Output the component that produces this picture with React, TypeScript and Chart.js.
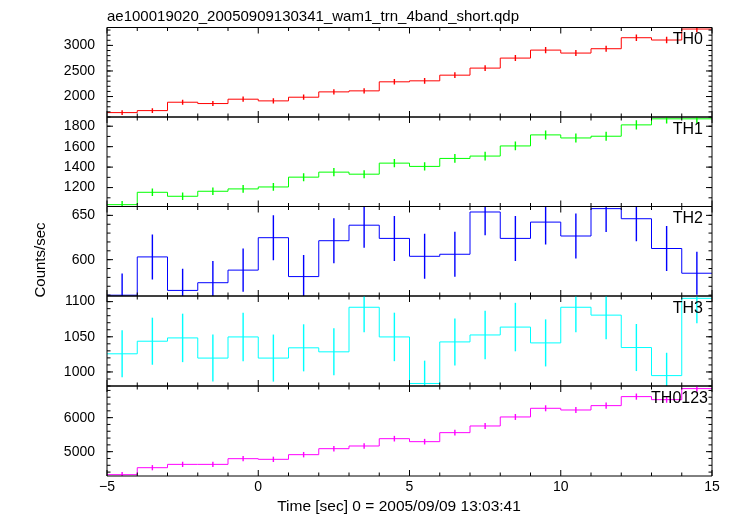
import React, { useEffect, useRef } from "react";
import { Chart, registerables } from "chart.js";
Chart.register(...registerables);

// ---- data ----
const binStarts = [-5, -4, -3, -2, -1, 0, 1, 2, 3, 4, 5, 6, 7, 8, 9, 10, 11, 12, 13, 14];
const binEnd = 15;
const binCenters = [-4.5, -3.5, -2.5, -1.5, -0.5, 0.5, 1.5, 2.5, 3.5, 4.5, 5.5, 6.5, 7.5, 8.5, 9.5, 10.5, 11.5, 12.5, 13.5, 14.5];

const th0 = [1686, 1725, 1889, 1863, 1948, 1915, 1987, 2091, 2111, 2288, 2307, 2418, 2556, 2752, 2908, 2850, 2935, 3150, 3105, 3320];
const th0Err = [41, 42, 43, 43, 44, 44, 45, 46, 46, 48, 48, 49, 51, 52, 54, 53, 54, 56, 56, 58];
const th1 = [1033, 1154, 1115, 1164, 1187, 1206, 1302, 1351, 1331, 1439, 1407, 1485, 1508, 1607, 1715, 1685, 1702, 1813, 1872, 1872];
const th1Err = [32, 34, 33, 34, 34, 35, 36, 37, 36, 38, 38, 39, 39, 40, 41, 41, 41, 43, 43, 43];
const th2 = [559.9, 603.1, 565.3, 574.0, 588.2, 624.8, 580.9, 621.4, 638.9, 624.0, 603.8, 606.1, 653.8, 624.0, 642.4, 626.7, 657.6, 646.2, 612.6, 584.7];
const th2Err = [24, 25, 24, 24, 24, 25, 24, 25, 25, 25, 25, 25, 26, 25, 25, 25, 26, 25, 25, 24];
const th3 = [1025.8, 1043.7, 1048.4, 1019.7, 1049.8, 1019.7, 1034.3, 1028.6, 1092.0, 1049.8, 983.6, 1042.7, 1052.6, 1063.8, 1041.3, 1092.0, 1080.8, 1034.7, 994.8, 1104.7];
const th3Err = [33, 33, 34, 33, 34, 33, 33, 33, 35, 34, 32, 33, 34, 34, 33, 35, 34, 33, 32, 35];
const th0123 = [4324, 4529, 4627, 4627, 4794, 4775, 4912, 5088, 5167, 5382, 5294, 5559, 5755, 6020, 6275, 6225, 6353, 6618, 6529, 6853];
const th0123Err = [66, 67, 68, 68, 69, 69, 70, 71, 72, 73, 73, 75, 76, 78, 79, 79, 80, 81, 81, 83];

const xTickLabels = [-5, 0, 5, 10, 15];
const th0Ticks = [2000, 2500, 3000];
const th1Ticks = [1200, 1400, 1600, 1800];
const th2Ticks = [600, 650];
const th3Ticks = [1000, 1050, 1100];
const th0123Ticks = [5000, 6000];

const titleText = "ae100019020_20050909130341_wam1_trn_4band_short.qdp";
const xTitle = "Time [sec] 0 = 2005/09/09 13:03:41";
const yTitle = "Counts/sec";

const panels = [
  { name: "TH0", values: th0, errors: th0Err, color: "#ff0000", min: 1600, max: 3350, ticks: th0Ticks, minorStep: 100, labelRight: 9 },
  { name: "TH1", values: th1, errors: th1Err, color: "#00ff00", min: 1015, max: 1890, ticks: th1Ticks, minorStep: 100, labelRight: 9 },
  { name: "TH2", values: th2, errors: th2Err, color: "#0000ff", min: 559, max: 660, ticks: th2Ticks, minorStep: 10, labelRight: 9 },
  { name: "TH3", values: th3, errors: th3Err, color: "#00ffff", min: 980, max: 1108, ticks: th3Ticks, minorStep: 10, labelRight: 9 },
  { name: "TH0123", values: th0123, errors: th0123Err, color: "#ff00ff", min: 4285, max: 6930, ticks: th0123Ticks, minorStep: 200, labelRight: 4 },
];

// ---- layout ----
const W = 733;
const H = 516;
const plotLeft = 107;
const plotRight = 712;
const panelEdges = [27.5, 117, 206.5, 296, 386, 476];
const FONT = '"Liberation Sans", Arial, Helvetica, sans-serif';

Chart.defaults.font.family = FONT;
Chart.defaults.color = "#000";

const framePlugin = {
  id: "frameTicks",
  afterDatasetsDraw(chart: any, _args: any, opts: any) {
    const { ctx, chartArea: a } = chart;
    const x = chart.scales.x;
    const y = chart.scales.y;
    const canvasTop = opts.canvasTop;
    ctx.save();
    ctx.strokeStyle = "#000";
    ctx.lineWidth = 1;
    ctx.beginPath();
    ctx.rect(a.left, a.top, a.right - a.left, a.bottom - a.top);
    // x ticks at each integer
    for (let v = -5; v <= 15; v++) {
      const px = x.getPixelForValue(v);
      const len = v % 5 === 0 ? 6 : 3.5;
      ctx.moveTo(px, a.top);
      ctx.lineTo(px, a.top + len);
      ctx.moveTo(px, a.bottom);
      ctx.lineTo(px, a.bottom - len);
    }
    // y minor ticks
    const ms = opts.minorStep;
    for (let v = Math.ceil(y.min / ms) * ms; v <= y.max; v += ms) {
      const py = y.getPixelForValue(v);
      ctx.moveTo(a.left, py);
      ctx.lineTo(a.left + 3.5, py);
      ctx.moveTo(a.right, py);
      ctx.lineTo(a.right - 3.5, py);
    }
    for (const v of opts.major) {
      const py = y.getPixelForValue(v);
      ctx.moveTo(a.left, py);
      ctx.lineTo(a.left + 6, py);
      ctx.moveTo(a.right, py);
      ctx.lineTo(a.right - 6, py);
    }
    ctx.stroke();

    ctx.fillStyle = "#000";
    ctx.font = "16px " + FONT;
    ctx.textAlign = "right";
    ctx.textBaseline = "alphabetic";
    ctx.fillText(opts.label, a.right - opts.labelRight, a.top + 16.5);

    if (opts.title) {
      ctx.font = "15px " + FONT;
      ctx.textAlign = "left";
      ctx.fillText(opts.title, a.left, 21 - canvasTop);
    }
    if (opts.yTitle) {
      ctx.save();
      ctx.font = "15px " + FONT;
      ctx.translate(41, 260 - canvasTop);
      ctx.rotate(-Math.PI / 2);
      ctx.textAlign = "center";
      ctx.textBaseline = "middle";
      ctx.fillText(opts.yTitle, 0, 0);
      ctx.restore();
    }
    if (opts.xTitle) {
      ctx.font = "15.5px " + FONT;
      ctx.textAlign = "center";
      ctx.textBaseline = "alphabetic";
      ctx.fillText(opts.xTitle, 399, 511 - canvasTop);
    }
    ctx.restore();
  },
};

function Panel({ idx }: { idx: number }) {
  const ref = useRef<HTMLCanvasElement>(null);
  const p = panels[idx];
  const isLast = idx === panels.length - 1;
  const pTop = panelEdges[idx];
  const pBot = panelEdges[idx + 1];
  const cTop = idx === 0 ? 0 : Math.floor(pTop) - 14;
  const cBot = isLast ? H : Math.ceil(pBot) + 14;
  const height = cBot - cTop;

  useEffect(() => {
    const edges = [...binStarts, binEnd];
    const stepPts = edges.map((x, i) => ({ x, y: p.values[Math.min(i, p.values.length - 1)] }));
    const errPts = binCenters.map((x, i) => ({ x, y: [p.values[i] - p.errors[i], p.values[i] + p.errors[i]] }));
    const chart = new Chart(ref.current as HTMLCanvasElement, {
      type: "line",
      data: {
        datasets: [
          {
            type: "line",
            data: stepPts as any,
            borderColor: p.color,
            borderWidth: 1,
            pointRadius: 0,
            stepped: true,
            fill: false,
            order: 1,
          } as any,
          {
            type: "bar",
            data: errPts as any,
            backgroundColor: p.color,
            barThickness: 0.75,
            grouped: false,
            order: 0,
          } as any,
        ],
      },
      options: {
        animation: false,
        responsive: false,
        events: [],
        layout: {
          padding: {
            left: 0,
            right: W - plotRight,
            top: pTop - cTop,
            bottom: isLast ? 0 : cBot - pBot,
          },
        },
        plugins: {
          legend: { display: false },
          tooltip: { enabled: false },
          frameTicks: {
            major: p.ticks,
            minorStep: p.minorStep,
            label: p.name,
            labelRight: p.labelRight,
            canvasTop: cTop,
            title: idx === 0 ? titleText : "",
            yTitle: idx === 2 ? yTitle : "",
            xTitle: isLast ? xTitle : "",
          },
        } as any,
        scales: {
          x: {
            type: "linear",
            min: -5,
            max: 15,
            offset: false,
            display: isLast,
            grid: { display: false, drawTicks: false },
            border: { display: false },
            ticks: {
              padding: 3,
              font: { size: 14 },
              color: "#000",
              maxRotation: 0,
              autoSkip: false,
              callback: (v: any) => (v < 0 ? "\u2212" + Math.abs(v) : String(v)),
            },
            afterBuildTicks: (s: any) => {
              s.ticks = xTickLabels.map((v) => ({ value: v }));
            },
            afterFit: (s: any) => {
              s.height = isLast ? H - panelEdges[5] : 0;
              s.paddingLeft = 0;
              s.paddingRight = 0;
            },
          },
          y: {
            type: "linear",
            min: p.min,
            max: p.max,
            grid: { display: false, drawTicks: false },
            border: { display: false },
            ticks: {
              padding: 12,
              font: { size: 14 },
              color: "#000",
              autoSkip: false,
              callback: (v: any) => String(v),
            },
            afterBuildTicks: (s: any) => {
              s.ticks = p.ticks.map((v) => ({ value: v }));
            },
            afterFit: (s: any) => {
              s.width = plotLeft;
              s.paddingTop = 0;
              s.paddingBottom = 0;
            },
          },
        },
      } as any,
      plugins: [framePlugin],
    });
    return () => chart.destroy();
  }, []);

  return (
    <canvas
      ref={ref}
      width={W}
      height={height}
      style={{ position: "absolute", left: 0, top: cTop, width: W, height }}
    />
  );
}

export default function App() {
  return (
    <div style={{ position: "absolute", left: 0, top: 0, width: W, height: H, background: "#fff", overflow: "hidden" }}>
      {panels.map((_, i) => (
        <Panel key={i} idx={i} />
      ))}
    </div>
  );
}
